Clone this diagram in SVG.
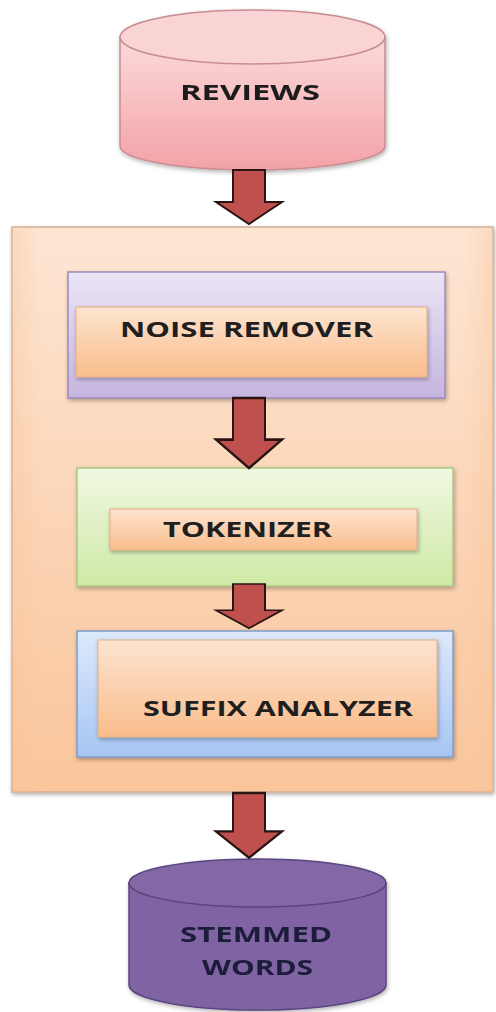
<svg xmlns="http://www.w3.org/2000/svg" width="496" height="1012" viewBox="0 0 496 1012">
<defs>
<linearGradient id="gPink" x1="0" y1="0" x2="0" y2="1"><stop offset="0" stop-color="#fbdadb"/><stop offset="1" stop-color="#f3a2a7"/></linearGradient>
<linearGradient id="gPeach" x1="0" y1="0" x2="0" y2="1"><stop offset="0" stop-color="#fde6d4"/><stop offset="1" stop-color="#fac59b"/></linearGradient>
<linearGradient id="gPeachEdge" x1="0" y1="0" x2="1" y2="0"><stop offset="0" stop-color="#f8c49a" stop-opacity="0.4"/><stop offset="0.06" stop-color="#f8c49a" stop-opacity="0"/><stop offset="0.94" stop-color="#f8c49a" stop-opacity="0"/><stop offset="1" stop-color="#f8c49a" stop-opacity="0.4"/></linearGradient>
<linearGradient id="gInner" x1="0" y1="0" x2="0" y2="1"><stop offset="0" stop-color="#fde4d0"/><stop offset="1" stop-color="#f9bd8c"/></linearGradient>
<linearGradient id="gLav" x1="0" y1="0" x2="0" y2="1"><stop offset="0" stop-color="#ebe4f6"/><stop offset="1" stop-color="#c6b5df"/></linearGradient>
<linearGradient id="gGreen" x1="0" y1="0" x2="0" y2="1"><stop offset="0" stop-color="#f0f8e2"/><stop offset="1" stop-color="#cfe9a6"/></linearGradient>
<linearGradient id="gBlue" x1="0" y1="0" x2="0" y2="1"><stop offset="0" stop-color="#dde9fb"/><stop offset="1" stop-color="#a6c6f3"/></linearGradient>
<filter id="sh" x="-10%" y="-10%" width="120%" height="125%"><feDropShadow dx="1" dy="2" stdDeviation="2" flood-color="#000" flood-opacity="0.3"/></filter>
<path id="arrow" d="M-15,0 H17 V32 H34 L1,54 L-32,32 H-15 Z"/>
</defs>
<style>
text{font-family:"Open Sans","Liberation Sans",sans-serif;font-weight:bold;font-size:21px;fill:#1f1f1f;text-anchor:middle}
.arr{fill:#c0504d;stroke:#2a1414;stroke-width:2;stroke-linejoin:miter}
</style>
<rect width="496" height="1012" fill="#ffffff"/>

<g id="reviews" filter="url(#sh)">
<path d="M120,37 V146 A132.5,24 0 0 0 385,146 V37 Z" fill="url(#gPink)" stroke="#c98c8f" stroke-width="1.5"/>
<ellipse cx="252.5" cy="37" rx="132.5" ry="27" fill="#fad3d5" stroke="#c98c8f" stroke-width="1.5"/>
<text x="250" y="100" textLength="140" lengthAdjust="spacingAndGlyphs">REVIEWS</text>
</g>

<g id="process">
<rect x="12" y="227" width="481" height="565" fill="url(#gPeach)" stroke="#d2ae94" stroke-width="1.5" filter="url(#sh)"/>
<rect x="12" y="227" width="481" height="565" fill="url(#gPeachEdge)"/>
</g>

<g id="noise-remover">
<rect x="68" y="272" width="377" height="126" fill="url(#gLav)" stroke="#9c8bbb" stroke-width="1.5" filter="url(#sh)"/>
<rect x="76" y="307" width="351" height="70" fill="url(#gInner)" stroke="#e3ad80" stroke-width="1" filter="url(#sh)"/>
<text x="246.5" y="337" textLength="253" lengthAdjust="spacingAndGlyphs">NOISE REMOVER</text>
</g>

<g id="tokenizer">
<rect x="77" y="468" width="376" height="118" fill="url(#gGreen)" stroke="#a9c883" stroke-width="1.5" filter="url(#sh)"/>
<rect x="110" y="509" width="307" height="41" fill="url(#gInner)" stroke="#e3ad80" stroke-width="1" filter="url(#sh)"/>
<text x="247.5" y="537" textLength="169" lengthAdjust="spacingAndGlyphs">TOKENIZER</text>
</g>

<g id="suffix-analyzer">
<rect x="77" y="631" width="376" height="126" fill="url(#gBlue)" stroke="#7d9dcb" stroke-width="1.5" filter="url(#sh)"/>
<rect x="98" y="640" width="339" height="97" fill="url(#gInner)" stroke="#e3ad80" stroke-width="1" filter="url(#sh)"/>
<text x="278" y="716" textLength="270" lengthAdjust="spacingAndGlyphs">SUFFIX ANALYZER</text>
</g>

<g id="stemmed-words" filter="url(#sh)">
<path d="M129,883 V985 A128.5,25 0 0 0 386,985 V883 Z" fill="#8064a2" stroke="#5a4580" stroke-width="1.5"/>
<ellipse cx="257.5" cy="883" rx="128.5" ry="24" fill="#8367a5" stroke="#5a4580" stroke-width="1.5"/>
<text x="256" y="942" textLength="152" lengthAdjust="spacingAndGlyphs" style="fill:#1c1a3a">STEMMED</text>
<text x="257.5" y="975" textLength="111" lengthAdjust="spacingAndGlyphs" style="fill:#1c1a3a">WORDS</text>
</g>

<g id="connectors">
<use href="#arrow" class="arr" transform="translate(248,170) scale(1,1)"/>
<use href="#arrow" class="arr" transform="translate(248,398) scale(1,1.3)"/>
<use href="#arrow" class="arr" transform="translate(248,584) scale(1,0.82)"/>
<use href="#arrow" class="arr" transform="translate(248,793) scale(1,1.2)"/>
</g>
</svg>
